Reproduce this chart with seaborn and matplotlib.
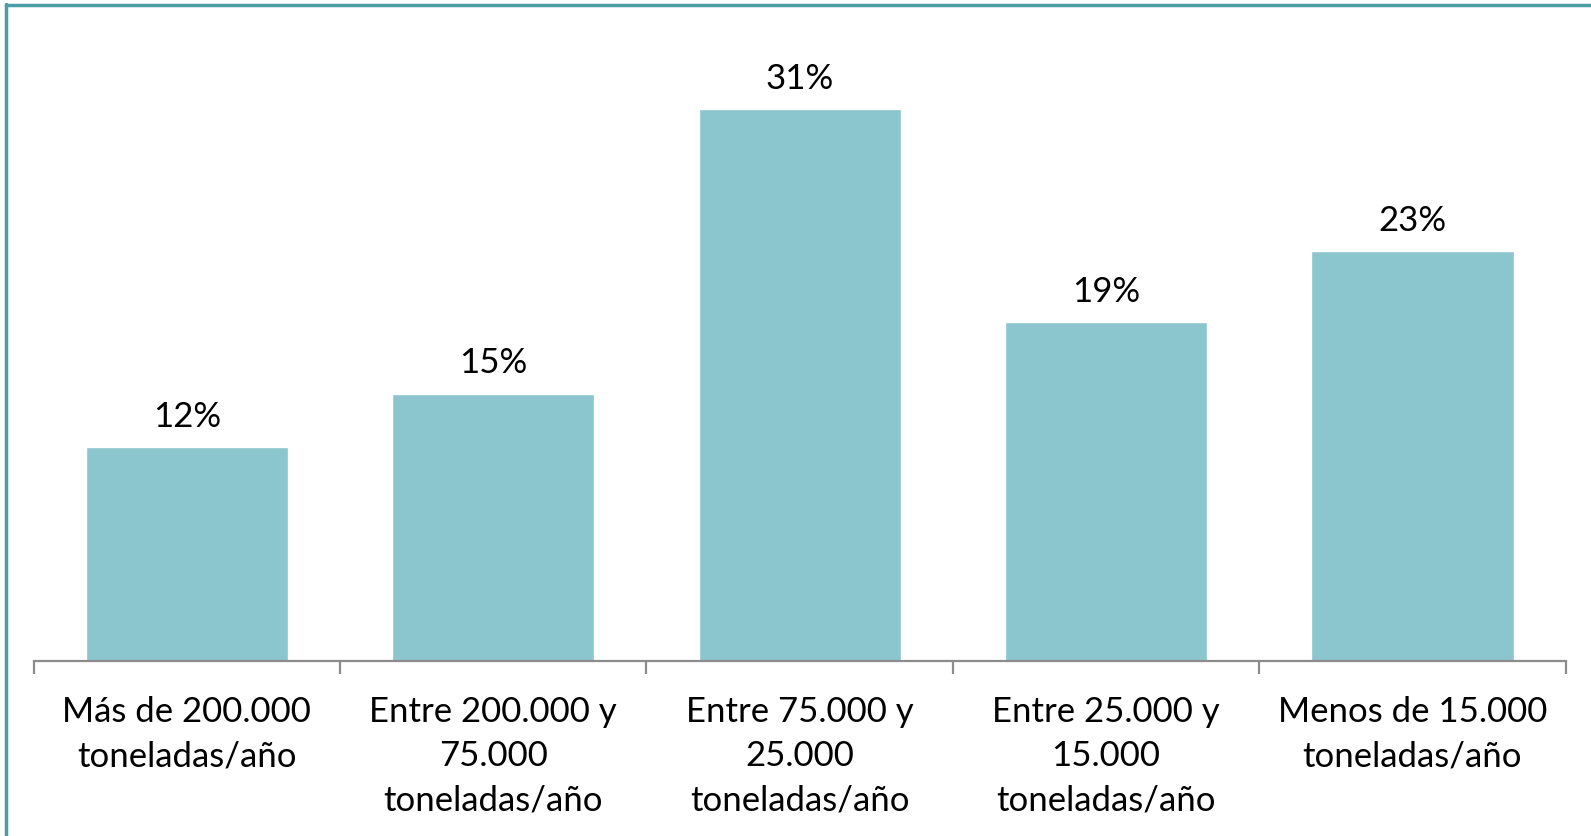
import matplotlib
matplotlib.use("Agg")
import matplotlib.pyplot as plt
from matplotlib.lines import Line2D
import seaborn as sns
import pandas as pd

categorias = [
    "Más de 200.000\ntoneladas/año",
    "Entre 200.000 y\n75.000\ntoneladas/año",
    "Entre 75.000 y\n25.000\ntoneladas/año",
    "Entre 25.000 y\n15.000\ntoneladas/año",
    "Menos de 15.000\ntoneladas/año",
]
porcentajes = [12, 15, 31, 19, 23]
etiquetas = ["12%", "15%", "31%", "19%", "23%"]

sns.set_theme(style="white")
plt.rcParams["font.family"] = ["Lato", "DejaVu Sans"]

df = pd.DataFrame({"categoria": categorias, "porcentaje": porcentajes})

fig = plt.figure(figsize=(15.91, 8.37), dpi=100)
ax = fig.add_axes([0.0211, 0.2094, 0.963, 0.7444])

sns.barplot(data=df, x="categoria", y="porcentaje", color="#8BC5CD",
            saturation=1, width=0.66, ax=ax)

for i, (v, t) in enumerate(zip(porcentajes, etiquetas)):
    ax.annotate(t, xy=(i, v), xytext=(0, 22.5), textcoords="offset points",
                ha="center", va="center", fontsize=25, color="black")

ax.set_xlim(-0.5, len(categorias) - 0.5)
ax.set_ylim(0, 35)
ax.set_xlabel("")
ax.set_ylabel("")
ax.set_yticks([])

for s in ["top", "right", "left"]:
    ax.spines[s].set_visible(False)
ax.spines["bottom"].set_color("#8C8C8C")
ax.spines["bottom"].set_linewidth(1.6)

ax.set_xticks(range(len(categorias)))
ax.set_xticklabels(categorias, fontsize=25, color="black", linespacing=1.46)
ax.tick_params(axis="x", which="major", length=0, pad=25)
ax.set_xticks([i - 0.5 for i in range(len(categorias) + 1)], minor=True)
ax.tick_params(axis="x", which="minor", length=9, width=1.6,
               color="#8C8C8C", direction="out", bottom=True)

# frame lines along the left and top edges
fig.add_artist(Line2D([6.5 / 1591, 6.5 / 1591], [0, 1 - 5 / 837],
                      transform=fig.transFigure, color="#4A9FA6", lw=2.5))
fig.add_artist(Line2D([6.5 / 1591, 1], [1 - 5.5 / 837, 1 - 5.5 / 837],
                      transform=fig.transFigure, color="#4A9FA6", lw=2.5))

fig.savefig("out.png", dpi=100, facecolor="white")
